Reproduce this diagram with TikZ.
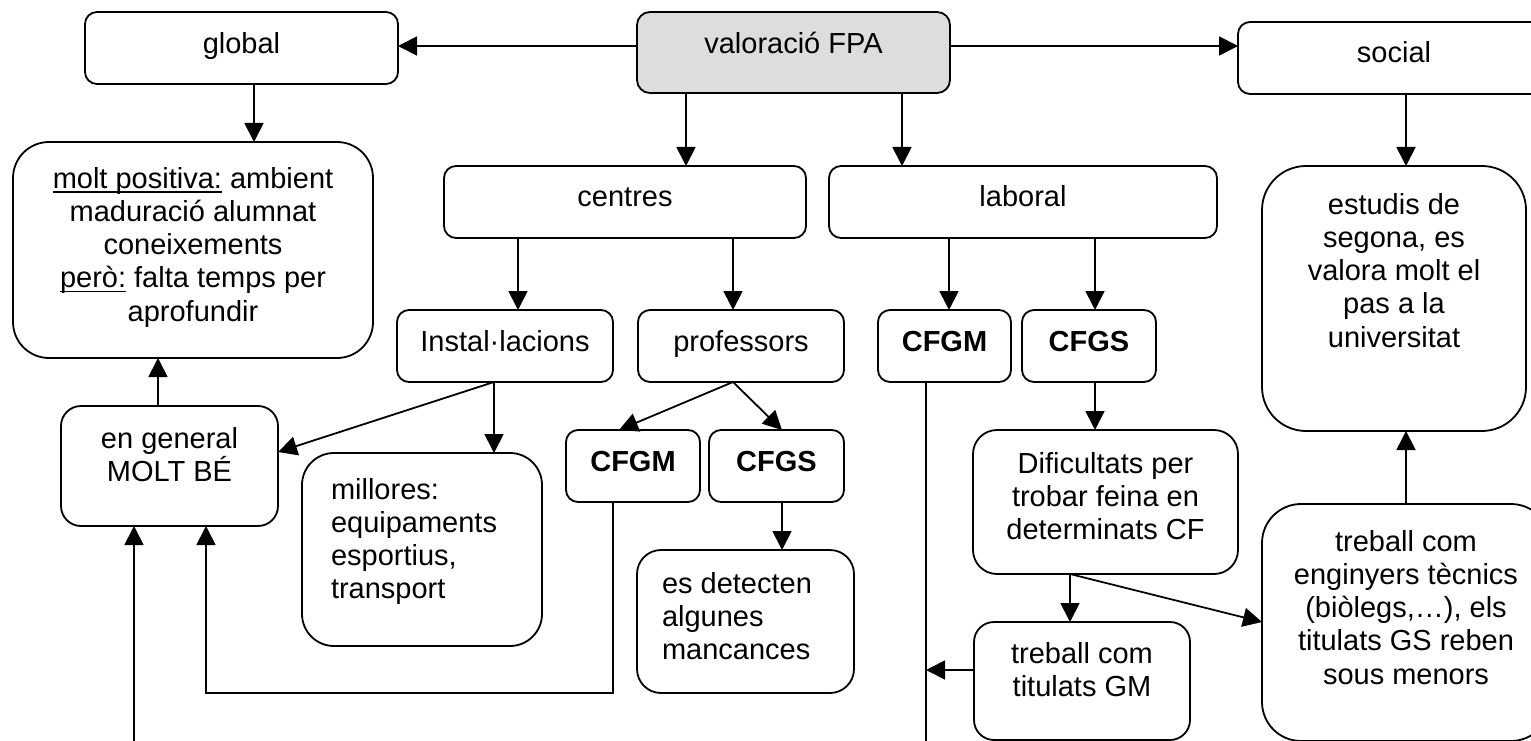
\documentclass[tikz,border=0pt]{standalone}
\usepackage{fontspec}
\setmainfont{Liberation Sans}
\usetikzlibrary{arrows.meta}
\definecolor{valgray}{RGB}{221,221,221}
\newsavebox\undlbox
\newcommand\undl[1]{\leavevmode\sbox\undlbox{#1}\rlap{\rule[-4.5pt]{\wd\undlbox}{1.6pt}}\usebox\undlbox}
% name, x1, y1, x2, y2, radius, baseline offset, extra style, text
\newcommand\bx[9]{%
  \node[box, rounded corners=#6pt, #8, anchor=north west] (#1) at (#2,#3)
  {\parbox[c][\dimexpr#5pt-#3pt\relax][t]{\dimexpr#4pt-#2pt\relax}{%
   \lineskiplimit=-\maxdimen\vspace*{\dimexpr#7pt-23.31pt\relax}#9}};}
\tikzset{
  box/.style={draw, line width=1.8pt, fill=white, inner sep=0pt, outer sep=0pt,
    font=\fontsize{29}{33.3}\selectfont},
  arr/.style={line width=1.8pt, -{Triangle[length=19pt,width=19pt]}},
  ln/.style={line width=1.8pt}
}
\begin{document}
\begin{tikzpicture}[x=1pt,y=-1pt]
\clip (0,0) rectangle (1531,741);
\useasboundingbox (0,0) rectangle (1531,741);
\fill[white] (0,0) rectangle (1531,741);
% top row
\bx{glob}{85}{12}{398}{84}{12}{42}{}{\centering\strut global}
\bx{val}{637}{12}{950}{93}{13}{42}{fill=valgray}{\centering\strut valoració FPA}
\bx{soc}{1238}{22}{1550}{94}{12}{41}{}{\centering\strut social}
% second row
\bx{mp}{13}{142}{373}{358}{36}{46}{}{\centering\strut\undl{molt positiva:} ambient\\ maduració alumnat\\ coneixements\\ \undl{però:} falta temps per\\ aprofundir}
\bx{cen}{444}{166}{806}{238}{12}{40}{}{\centering\strut centres}
\bx{lab}{829}{166}{1217}{238}{12}{40}{}{\centering\strut laboral}
\bx{est}{1262}{166}{1526}{431}{44}{48}{}{\centering\strut estudis de\\ segona, es\\ valora molt el\\ pas a la\\ universitat}
% third row
\bx{ins}{397}{310}{613}{382}{12}{41}{}{\centering\strut Instal·lacions}
\bx{pro}{638}{310}{844}{382}{12}{41}{}{\centering\strut professors}
\bx{gma}{878}{310}{1011}{382}{12}{41}{}{\centering\bfseries\strut CFGM}
\bx{gsa}{1022}{310}{1156}{382}{12}{41}{}{\centering\bfseries\strut CFGS}
% lower part
\bx{eng}{61}{406}{278}{526}{20}{42}{}{\centering\strut en general\\ MOLT BÉ}
\bx{mil}{302}{453}{542}{646}{32}{46}{}{\raggedright\leftskip=29pt\strut millores:\\ equipaments\\ esportius,\\ transport}
\bx{gmb}{566}{430}{700}{502}{12}{41}{}{\centering\bfseries\strut CFGM}
\bx{gsb}{709}{430}{844}{502}{12}{41}{}{\centering\bfseries\strut CFGS}
\bx{det}{637}{550}{854}{693}{24}{43}{}{\raggedright\leftskip=25pt\strut es detecten\\ algunes\\ mancances}
\bx{dif}{973}{430}{1238}{574}{24}{43}{}{\centering\strut Dificultats per\\ trobar feina en\\ determinats CF}
\bx{tgm}{974}{622}{1190}{740}{20}{41}{}{\centering\strut treball com\\ titulats GM}
\bx{tgs}{1262}{504}{1550}{741}{39}{47}{}{\centering\strut treball com\\ enginyers tècnics\\ (biòlegs,…), els\\ titulats GS reben\\ sous menors}
% free ends and bends
\coordinate (bl) at (134,745);
\coordinate (br) at (926,745);
\coordinate (c1) at (613,693);
\coordinate (c2) at (206,693);
% connectors
\draw[arr] (val.west |- 0,46) -- (glob.east |- 0,46);
\draw[arr] (val.east |- 0,46) -- (soc.west |- 0,46);
\draw[arr] (glob.south -| 254,0) -- (mp.north -| 254,0);
\draw[arr] (val.south -| 686,0) -- (cen.north -| 686,0);
\draw[arr] (val.south -| 902,0) -- (lab.north -| 902,0);
\draw[arr] (soc.south -| 1406,0) -- (est.north -| 1406,0);
\draw[arr] (cen.south -| 518,0) -- (ins.north -| 518,0);
\draw[arr] (cen.south -| 733,0) -- (pro.north -| 733,0);
\draw[arr] (lab.south -| 949,0) -- (gma.north -| 949,0);
\draw[arr] (lab.south -| 1095,0) -- (gsa.north -| 1095,0);
\draw[arr] (eng.north -| 158,0) -- (mp.south -| 158,0);
\draw[arr] (ins.south -| 494,0) -- (eng.east |- 0,452);
\draw[arr] (ins.south -| 494,0) -- (mil.north -| 494,0);
\draw[arr] (pro.south -| 733,0) -- (gmb.north -| 619,0);
\draw[arr] (pro.south -| 733,0) -- (gsb.north -| 782,0);
\draw[arr] (gsb.south -| 782,0) -- (det.north -| 782,0);
\draw[arr] (gmb.south -| c1) -- (c1) -- (c2) -- (eng.south -| c2);
\draw[arr] (bl) -- (eng.south -| bl);
\draw[ln] (gma.south -| br) -- (br);
\draw[arr] (tgm.west |- 0,670) -- (br |- 0,670);
\draw[arr] (gsa.south -| 1095,0) -- (dif.north -| 1095,0);
\draw[arr] (dif.south -| 1070,0) -- (tgm.north -| 1070,0);
\draw[arr] (dif.south -| 1070,0) -- (tgs.west |- 0,622);
\draw[arr] (tgs.north -| 1406,0) -- (est.south -| 1406,0);
\end{tikzpicture}
\end{document}
